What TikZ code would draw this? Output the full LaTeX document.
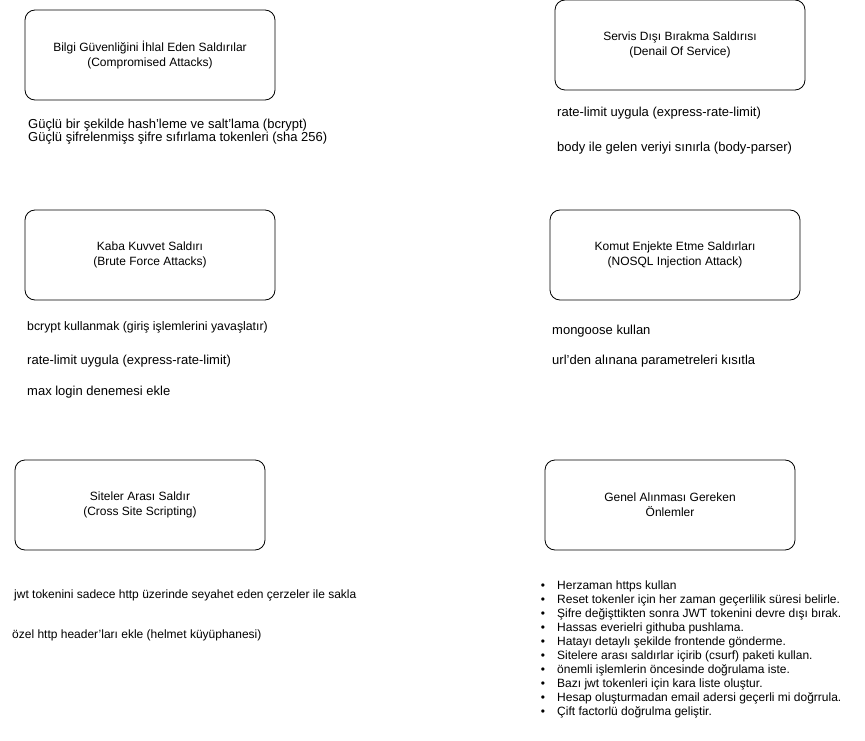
\documentclass[tikz,border=0pt]{standalone}
\usepackage{fontspec}
\setmainfont{Liberation Sans}
\begin{document}
\begin{tikzpicture}[x=1pt,y=-1pt,
  box/.style={draw, rounded corners=10pt, minimum width=250pt, minimum height=90pt,
    align=center, font=\fontsize{12}{15}\selectfont, line width=0.8pt, inner sep=0pt},
  note/.style={anchor=base west, font=\fontsize{12}{14}\selectfont, inner sep=0pt},
  bignote/.style={note, font=\fontsize{13}{15}\selectfont},
  bul/.style={anchor=base, font=\fontsize{12}{14}\selectfont, inner sep=0pt}]
\useasboundingbox (0,0) rectangle (865,741);

\node[box] (b1) at (150,55) {Bilgi Güvenliğini İhlal Eden Saldırılar\\(Compromised Attacks)};
\node[bignote] (n11) at (28,129) {Güçlü bir şekilde hash'leme ve salt'lama (bcrypt)};
\node[bignote] (n12) at (28,142) {Güçlü şifrelenmişs şifre sıfırlama tokenleri (sha 256)};

\node[box] (b2) at (680,45) {Servis Dışı Bırakma Saldırısı\\(Denail Of Service)};
\node[bignote] (n21) at (557,117) {rate-limit uygula (express-rate-limit)};
\node[bignote] (n22) at (557,152) {body ile gelen veriyi sınırla (body-parser)};

\node[box] (b3) at (150,255) {Kaba Kuvvet Saldırı\\(Brute Force Attacks)};
\node[note, font=\fontsize{12.3}{14}\selectfont] (n31) at (27,330) {bcrypt kullanmak (giriş işlemlerini yavaşlatır)};
\node[bignote] (n32) at (27,364) {rate-limit uygula (express-rate-limit)};
\node[bignote] (n33) at (27,395) {max login denemesi ekle};

\node[box] (b4) at (675,255) {Komut Enjekte Etme Saldırları\\(NOSQL Injection Attack)};
\node[bignote] (n41) at (552,334) {mongoose kullan};
\node[bignote] (n42) at (552,364) {url'den alınana parametreleri kısıtla};

\node[box] (b5) at (140,505) {Siteler Arası Saldır\\(Cross Site Scripting)};
\node[note] (n51) at (14,598) {jwt tokenini sadece http üzerinde seyahet eden çerzeler ile sakla};
\node[note] (n52) at (12,638) {özel http header'ları ekle (helmet küyüphanesi)};

\node[box] (b6) at (670,505) {Genel Alınması Gereken\\Önlemler};

\foreach \t [count=\i from 0] in {
  Herzaman https kullan,
  Reset tokenler için her zaman geçerlilik süresi belirle.,
  Şifre değişttikten sonra JWT tokenini devre dışı bırak.,
  Hassas everielri githuba pushlama.,
  Hatayı detaylı şekilde frontende gönderme.,
  Sitelere arası saldırlar içirib (csurf) paketi kullan.,
  önemli işlemlerin öncesinde doğrulama iste.,
  Bazı jwt tokenleri için kara liste oluştur.,
  Hesap oluşturmadan email adersi geçerli mi doğrrula.,
  Çift factorlü doğrulma geliştir.}{
  \node[bul] (bl\i) at (543,{589+14.1*\i}) {•};
  \node[note] (li\i) at (557,{589+14.1*\i}) {\t};
}
\end{tikzpicture}
\end{document}
